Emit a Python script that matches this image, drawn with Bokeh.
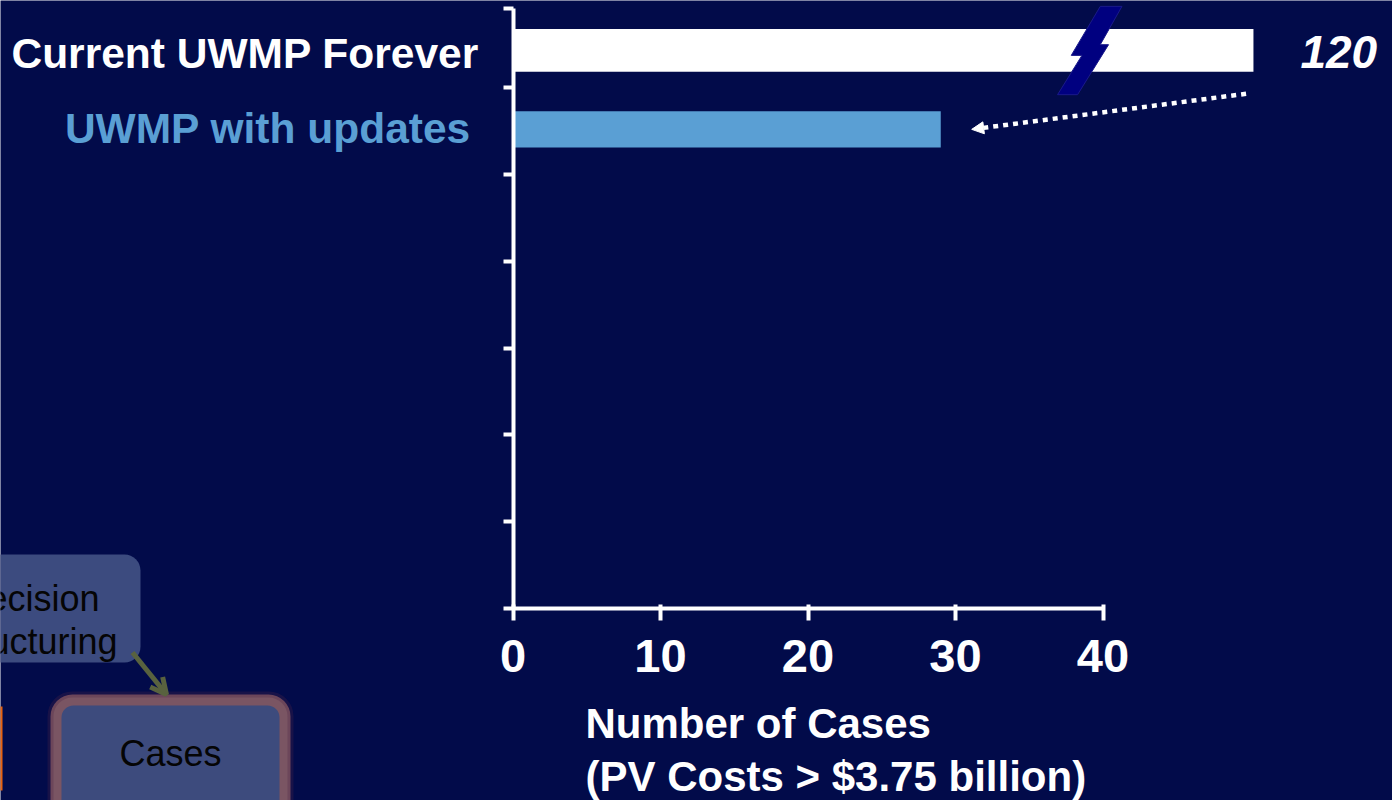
from bokeh.plotting import figure
from bokeh.models import (ColumnDataSource, Range1d, LinearAxis, FixedTicker,
                          Arrow, NormalHead, OpenHead, BoxAnnotation)
from bokeh.core.properties import value
from bokeh.embed import file_html
from bokeh.resources import INLINE

# ---------------- data ----------------
categories = ["Current UWMP Forever", "UWMP with updates"]
cases = [120, 29]
x_ticks = [0, 10, 20, 30, 40]
x_axis_max = 40
n_slots = 7
axis_title = ["Number of Cases", "(PV Costs > $3.75 billion)"]
diagram_box1 = ["Decision", "Structuring"]
diagram_box2 = ["Cases"]

# ---------------- style ----------------
BG = "#020B4A"
FONT = value("Liberation Sans")
bar_colors = ["#FFFFFF", "#5A9FD4"]
bar_heights = [0.49, 0.42]
bar_nudges = [-0.07, 0.02]
label_x_offsets = [-34, -42]
label_y_offsets = [3, -1]
BREAK_DRAWN = 50.2          # drawn length (axis units) of a bar beyond the axis

# pixel <-> data mapping for the full-canvas frame
W, H = 1392, 800
X0_PX, PX_PER_X = 512.5, 14.75
Y0_PX, PX_PER_Y = 608.0, 86.8


def dx(px):
    return (px - X0_PX) / PX_PER_X


def dy(py):
    return (Y0_PX - py) / PX_PER_Y


p = figure(width=W, height=H, x_range=Range1d(dx(0), dx(W)), y_range=Range1d(dy(H), dy(0)),
           x_axis_type=None, y_axis_type=None, toolbar_location=None,
           output_backend="svg", min_border=0,
           background_fill_color=BG, border_fill_color=BG, outline_line_color=None)

# ---------------- bars ----------------
y_pos = [n_slots - 0.5 - i + bar_nudges[i] for i in range(len(categories))]
drawn = [v if v <= x_axis_max else BREAK_DRAWN for v in cases]
src = ColumnDataSource(dict(y=y_pos, right=drawn, color=bar_colors, h=bar_heights,
                            label=categories, xo=label_x_offsets, yo=label_y_offsets,
                            zero=[0] * len(categories)))
p.hbar(y="y", left=0, right="right", height="h", fill_color="color", line_color=None, source=src)

# category labels (left of axis)
p.text(x="zero", y="y", text="label", text_color="color", x_offset="xo", y_offset="yo",
       text_align="right", text_baseline="middle", text_font=FONT,
       text_font_style="bold", text_font_size="42.5px", source=src)

# value label for broken bar(s)
broken = [i for i, v in enumerate(cases) if v > x_axis_max]
vsrc = ColumnDataSource(dict(x=[drawn[i] for i in broken], y=[y_pos[i] for i in broken],
                             t=[str(cases[i]) for i in broken]))
p.text(x="x", y="y", text="t", x_offset=47, y_offset=2, text_color="white",
       text_align="left", text_baseline="middle", text_font=FONT,
       text_font_style="bold italic", text_font_size="46px", source=vsrc)

# axis-break lightning bolt
bolt_dx = [12, 33.7, 12, 20.3, -10.7, -30.7, -6.3, -17]
bolt_dy = [-44, -44, -5.7, -5.7, 44.3, 44.3, 5, 5]
for i in broken:
    cx = x_axis_max - 1.0
    cy_px = Y0_PX - y_pos[i] * PX_PER_Y
    p.patch(x=[cx + d / PX_PER_X for d in bolt_dx],
            y=[dy(cy_px + d) for d in bolt_dy],
            fill_color="#000080", line_color="#1A1A8A", line_width=1)

# dotted arrow from broken bar to updated bar
p.add_layout(Arrow(x_start=drawn[0] - 0.5, y_start=y_pos[0] - 0.5,
                   x_end=cases[1] + 2.1, y_end=y_pos[1],
                   line_color="white", line_width=4.5, line_dash="5 5",
                   end=NormalHead(size=12, fill_color="white", line_color="white")))

# ---------------- axes ----------------
xaxis = LinearAxis(fixed_location=0, bounds=(0, x_axis_max), ticker=FixedTicker(ticks=x_ticks),
                   axis_line_color="white", axis_line_width=4,
                   major_tick_line_color="white", major_tick_line_width=4,
                   major_tick_out=12, major_tick_in=4, minor_tick_line_color=None,
                   major_label_text_color="white", major_label_text_font="Liberation Sans",
                   major_label_text_font_style="bold", major_label_text_font_size="47px",
                   major_label_standoff=19)
p.add_layout(xaxis, "below")

y_top = n_slots - 0.09
yaxis = LinearAxis(fixed_location=0, bounds=(0, y_top),
                   ticker=FixedTicker(ticks=list(range(n_slots)) + [y_top]),
                   axis_line_color="white", axis_line_width=4,
                   major_tick_line_color="white", major_tick_line_width=4,
                   major_tick_out=10, major_tick_in=0, minor_tick_line_color=None,
                   major_label_text_color=None, major_label_text_font_size="0px")
p.add_layout(yaxis, "left")

# axis title (left aligned, two lines)
p.text(x=[dx(585)] * 2, y=[dy(723), dy(776)], text=axis_title, text_color="white",
       text_align="left", text_baseline="middle", text_font=FONT,
       text_font_style="bold", text_font_size="42px")

# ---------------- diagram remnants (bottom-left) ----------------
p.add_layout(BoxAnnotation(left=dx(-70), right=dx(140), top=dy(554), bottom=dy(662),
                           fill_color="#3C4B7F", fill_alpha=1, line_color=None,
                           border_radius=16, level="underlay"))
p.text(x=[dx(30)] * 2, y=[dy(598), dy(641)], text=diagram_box1, text_color="#050505",
       text_align="center", text_baseline="middle", text_font=FONT, text_font_size="36px")

p.add_layout(BoxAnnotation(left=dx(50), right=dx(290), top=dy(694), bottom=dy(840),
                           fill_color="#7A5563", fill_alpha=1, line_color="#4C2646",
                           line_width=6, border_radius=22, level="underlay"))
p.add_layout(BoxAnnotation(left=dx(61), right=dx(279), top=dy(705), bottom=dy(840),
                           fill_color="#3D4B7D", fill_alpha=1, line_color=None,
                           border_radius=12, level="underlay"))
p.text(x=[dx(170)], y=[dy(753)], text=diagram_box2, text_color="#050505",
       text_align="center", text_baseline="middle", text_font=FONT, text_font_size="36px")

p.add_layout(Arrow(x_start=dx(132), y_start=dy(652), x_end=dx(166), y_end=dy(694),
                   line_color="#59623F", line_width=5,
                   end=OpenHead(size=16, line_color="#59623F", line_width=5)))

p.add_layout(BoxAnnotation(left=dx(-10), right=dx(2), top=dy(706), bottom=dy(790),
                           fill_color="#E8620F", fill_alpha=1, line_color=None, level="underlay"))

open("out.html", "w").write(file_html(p, INLINE))
